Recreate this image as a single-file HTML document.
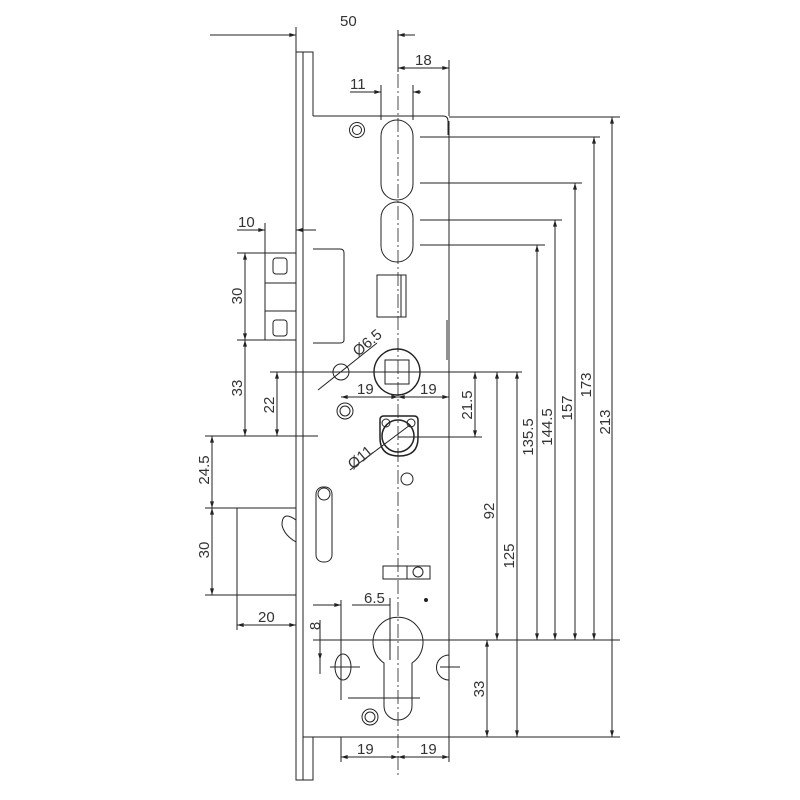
<!DOCTYPE html>
<html><head><meta charset="utf-8"><style>
html,body{margin:0;padding:0;background:#fff}
svg{display:block}
text{font-family:"Liberation Sans",sans-serif;font-size:15px;fill:#333}
</style></head><body>
<svg width="800" height="800" viewBox="0 0 800 800" xmlns="http://www.w3.org/2000/svg">
<defs>
<marker id="a" viewBox="0 0 10 6" refX="10" refY="3" markerWidth="8" markerHeight="4" orient="auto-start-reverse" markerUnits="userSpaceOnUse"><path d="M0,0L10,3L0,6z" fill="#222"/></marker>
</defs>
<g stroke="#222" stroke-width="1" fill="none">
<!-- faceplate -->
<rect x="296" y="52" width="7" height="728"/>
<path d="M303,52H313V116M303,737H313V780H303"/>
<!-- case -->
<path d="M313,116H443Q448,116 448,121V135M449,135V737H313"/>
<path d="M449,121V148M447,320V360M449,560V735"/>
<!-- centerline -->
<line x1="398" y1="30" x2="398" y2="775" stroke-dasharray="14,3,2,3" stroke-width="0.8"/>
<!-- ovals -->
<rect x="381" y="120" width="32" height="80" rx="16"/>
<rect x="381" y="202" width="32" height="60" rx="16"/>
<!-- top screw -->
<circle cx="357" cy="130" r="7.5"/><circle cx="357" cy="130" r="4.5"/>
<!-- square window -->
<rect x="377" y="275" width="29" height="42"/><path d="M401,275V317"/>
<!-- latch block -->
<rect x="265" y="253" width="31" height="87"/>
<path d="M265,283H296M265,311H296"/>
<rect x="273" y="258" width="14" height="16" rx="3"/>
<rect x="273" y="320" width="14" height="16" rx="3"/>
<path d="M313,249H340Q344,249 344,253V340Q344,343 340,343H313"/>
<!-- follower -->
<circle cx="397" cy="372" r="23" stroke-width="1.4"/>
<rect x="385" y="360" width="24" height="24"/>
<circle cx="341" cy="372" r="8"/>
<!-- screw 2 -->
<circle cx="345" cy="411" r="8"/><circle cx="345" cy="411" r="5"/>
<!-- knob -->
<path d="M380,420Q380,416 384,416H414Q418,416 418,420V438Q418,456 399,456Q380,456 380,438Z" stroke-width="1.5"/>
<circle cx="398" cy="436" r="16" stroke-width="1.5"/>
<circle cx="386" cy="423" r="4"/><circle cx="411" cy="423" r="4"/>
<circle cx="407" cy="479" r="6"/>
<!-- slot -->
<rect x="316" y="487" width="16" height="75" rx="7"/>
<circle cx="324" cy="494" r="6"/>
<!-- small block -->
<rect x="383" y="566" width="47" height="13"/><circle cx="418" cy="572" r="5"/><path d="M407,566V579"/>
<circle cx="426" cy="600" r="1.5" fill="#222"/>
<!-- profile cylinder -->
<path d="M384,663A25,25 0 1 1 412,663V706A14,14 0 0 1 384,706Z"/>
<!-- hole -->
<ellipse cx="343" cy="667" rx="8" ry="13"/>
<path d="M449,655A10,10 0 0 0 449,680"/>
<!-- screw 3 -->
<circle cx="370" cy="717" r="8"/><circle cx="370" cy="717" r="5"/>
<!-- deadbolt -->
<rect x="237" y="508" width="59" height="87"/>
<path d="M296,520Q282,510 282,525Q284,535 296,542"/>
<!-- dimension/extension lines -->
<path d="M296,27V52M398,30V72M449,60V116M381,85V120M413,85V120M265,223V253M296,223V250"/>
<path d="M237,253H296M237,340H296M205,436H318M205,508H237M205,595H237M237,595V630M270,372H522M398,437H482M313,640H620M313,737H620M449,117H620M420,137H600M420,183H582M420,220H562M420,245H545M341,600V700M390,598V660M348,698H420M330,667H360M440,667H460"/>
<path d="M341,737V762M449,737V762"/>
<line x1="210" y1="35" x2="296" y2="35" marker-end="url(#a)"/>
<line x1="398" y1="35" x2="415" y2="35" marker-start="url(#a)"/>
<line x1="398" y1="68" x2="449" y2="68" marker-start="url(#a)" marker-end="url(#a)"/>
<line x1="350" y1="92" x2="381" y2="92" marker-end="url(#a)"/>
<line x1="413" y1="92" x2="421" y2="92" marker-start="url(#a)"/>
<line x1="237" y1="230" x2="265" y2="230" marker-end="url(#a)"/>
<line x1="296" y1="230" x2="316" y2="230" marker-start="url(#a)"/>
<line x1="245" y1="253" x2="245" y2="340" marker-start="url(#a)" marker-end="url(#a)"/>
<line x1="245" y1="340" x2="245" y2="436" marker-start="url(#a)" marker-end="url(#a)"/>
<line x1="277" y1="372" x2="277" y2="436" marker-start="url(#a)" marker-end="url(#a)"/>
<line x1="212" y1="436" x2="212" y2="508" marker-start="url(#a)" marker-end="url(#a)"/>
<line x1="212" y1="508" x2="212" y2="595" marker-start="url(#a)" marker-end="url(#a)"/>
<line x1="237" y1="625" x2="296" y2="625" marker-start="url(#a)" marker-end="url(#a)"/>
<line x1="341" y1="397" x2="398" y2="397" marker-start="url(#a)" marker-end="url(#a)"/>
<line x1="398" y1="397" x2="449" y2="397" marker-start="url(#a)" marker-end="url(#a)"/>
<line x1="313" y1="605" x2="341" y2="605" marker-end="url(#a)"/>
<line x1="352" y1="605" x2="390" y2="605"/>
<line x1="320" y1="660" x2="320" y2="674"/>
<line x1="320" y1="620" x2="320" y2="660" marker-end="url(#a)"/>
<line x1="341" y1="757" x2="398" y2="757" marker-start="url(#a)" marker-end="url(#a)"/>
<line x1="398" y1="757" x2="449" y2="757" marker-start="url(#a)" marker-end="url(#a)"/>
<line x1="475" y1="372" x2="475" y2="437" marker-start="url(#a)" marker-end="url(#a)"/>
<line x1="487" y1="640" x2="487" y2="737" marker-start="url(#a)" marker-end="url(#a)"/>
<line x1="497" y1="372" x2="497" y2="640" marker-start="url(#a)" marker-end="url(#a)"/>
<line x1="517" y1="372" x2="517" y2="737" marker-start="url(#a)" marker-end="url(#a)"/>
<line x1="537" y1="245" x2="537" y2="640" marker-start="url(#a)" marker-end="url(#a)"/>
<line x1="555" y1="220" x2="555" y2="640" marker-start="url(#a)" marker-end="url(#a)"/>
<line x1="575" y1="183" x2="575" y2="640" marker-start="url(#a)" marker-end="url(#a)"/>
<line x1="594" y1="137" x2="594" y2="640" marker-start="url(#a)" marker-end="url(#a)"/>
<line x1="612" y1="117" x2="612" y2="737" marker-start="url(#a)" marker-end="url(#a)"/>
<line x1="318" y1="390" x2="377" y2="343"/>
<line x1="350" y1="470" x2="410" y2="425"/>
</g>
<text x="340" y="26">50</text>
<text x="415" y="65">18</text>
<text x="350" y="89">11</text>
<text x="238" y="227">10</text>
<text x="357" y="394">19</text>
<text x="420" y="394">19</text>
<text x="258" y="622">20</text>
<text x="364" y="603">6.5</text>
<text x="357" y="754">19</text>
<text x="420" y="754">19</text>
<text transform="translate(242,296) rotate(-90)" text-anchor="middle">30</text>
<text transform="translate(242,388) rotate(-90)" text-anchor="middle">33</text>
<text transform="translate(274,405) rotate(-90)" text-anchor="middle">22</text>
<text transform="translate(209,470) rotate(-90)" text-anchor="middle">24.5</text>
<text transform="translate(209,550) rotate(-90)" text-anchor="middle">30</text>
<text transform="translate(320,626) rotate(-90)" text-anchor="middle">8</text>
<text transform="translate(472,405) rotate(-90)" text-anchor="middle">21.5</text>
<text transform="translate(484,689) rotate(-90)" text-anchor="middle">33</text>
<text transform="translate(494,511) rotate(-90)" text-anchor="middle">92</text>
<text transform="translate(514,556) rotate(-90)" text-anchor="middle">125</text>
<text transform="translate(533,437) rotate(-90)" text-anchor="middle">135.5</text>
<text transform="translate(552,427) rotate(-90)" text-anchor="middle">144.5</text>
<text transform="translate(572,408) rotate(-90)" text-anchor="middle">157</text>
<text transform="translate(591,385) rotate(-90)" text-anchor="middle">173</text>
<text transform="translate(610,422) rotate(-90)" text-anchor="middle">213</text>
<text transform="translate(358,357) rotate(-40)">Ø6.5</text>
<text transform="translate(353,470) rotate(-40)">Ø11</text>
</svg>
</body></html>
